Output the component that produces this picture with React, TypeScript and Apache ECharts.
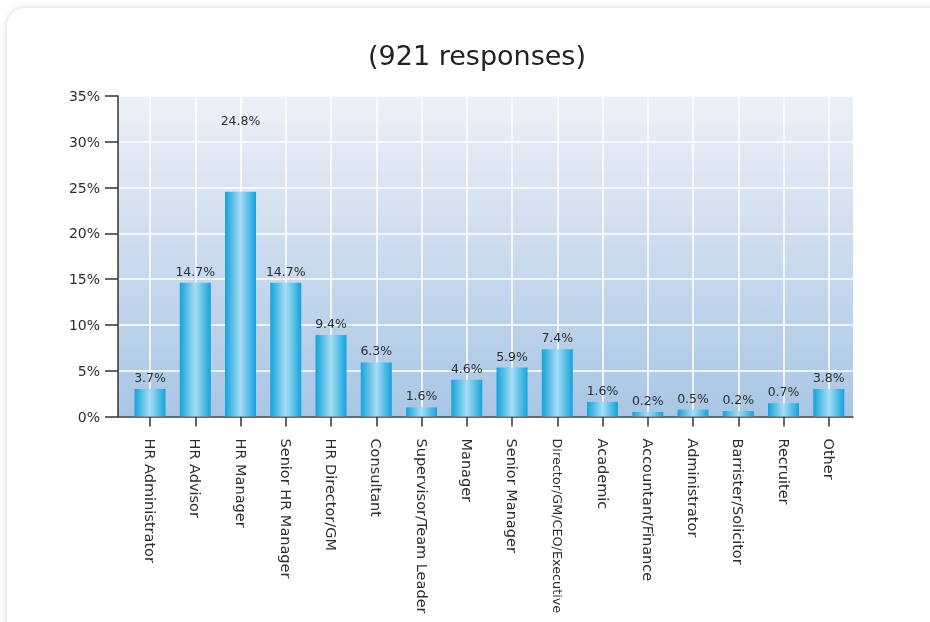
import React, { useEffect, useRef } from "react";
import * as echarts from "echarts";

const categories = [
  "HR Administrator",
  "HR Advisor",
  "HR Manager",
  "Senior HR Manager",
  "HR Director/GM",
  "Consultant",
  "Supervisor/Team Leader",
  "Manager",
  "Senior Manager",
  "Director/GM/CEO/Executive",
  "Academic",
  "Accountant/Finance",
  "Administrator",
  "Barrister/Solicitor",
  "Recruiter",
  "Other",
];

// bar heights as drawn (percent)
const barValues = [3.0, 14.6, 24.55, 14.6, 8.9, 5.9, 1.0, 4.0, 5.35, 7.35, 1.6, 0.5, 0.75, 0.6, 1.45, 3.0];

// label texts printed above the bars
const labelTexts = ["3.7%", "14.7%", "24.8%", "14.7%", "9.4%", "6.3%", "1.6%", "4.6%", "5.9%", "7.4%", "1.6%", "0.2%", "0.5%", "0.2%", "0.7%", "3.8%"];

const yMin = 0;
const yMax = 35;
const yStep = 5;

const titleText = "(921 responses)";

const FONT = "'DejaVu Sans', 'Open Sans', sans-serif";

export default function App() {
  const ref = useRef<HTMLDivElement>(null);

  useEffect(() => {
    if (!ref.current) return;
    const chart = echarts.init(ref.current, undefined, { renderer: "svg" });

    const barGradient = new echarts.graphic.LinearGradient(0, 0, 1, 0, [
      { offset: 0, color: "#14a2da" },
      { offset: 0.5, color: "#a6ddf4" },
      { offset: 1, color: "#14a3da" },
    ]);

    const bgGradient = new echarts.graphic.LinearGradient(0, 0, 0, 1, [
      { offset: 0, color: "#edf0f8" },
      { offset: 1, color: "#a8c6e4" },
    ]);

    const seriesData = barValues.map((v, i) =>
      i === 2
        ? { value: v, label: { offset: [0, -60] } }
        : { value: v }
    );

    const xData = categories.map((c) =>
      c.length > 22 ? { value: c, textStyle: { fontSize: 12.8 } } : c
    );

    chart.setOption({
      animation: false,
      title: {
        text: titleText,
        left: 472,
        top: 37,
        textAlign: "center",
        textStyle: {
          fontSize: 27,
          fontWeight: "normal",
          color: "#222",
          fontFamily: FONT,
        },
      },
      grid: [
        {
          left: 118,
          right: 77,
          top: 96,
          bottom: 205.5,
          show: true,
          backgroundColor: bgGradient,
          borderWidth: 0,
        },
        {
          left: 127.4,
          right: 78.6,
          top: 96,
          bottom: 205.5,
        },
      ],
      xAxis: [
        {
          gridIndex: 0,
          type: "category",
          data: categories,
          axisLine: { show: true, lineStyle: { color: "#3a3a3a", width: 1.5 } },
          axisTick: { show: false },
          axisLabel: { show: false },
          splitLine: { show: false },
        },
        {
          gridIndex: 1,
          type: "category",
          data: xData,
          axisLine: { show: false },
          axisTick: {
            show: true,
            alignWithLabel: true,
            length: 10,
            lineStyle: { color: "#333", width: 1.5 },
          },
          axisLabel: {
            rotate: -90,
            margin: 22,
            fontSize: 14.5,
            color: "#2e2e2e",
            fontFamily: FONT,
            interval: 0,
          },
          splitLine: {
            show: true,
            alignWithLabel: true,
            lineStyle: { color: "#ffffff", width: 1.5 },
          },
        },
      ],
      yAxis: [
        {
          gridIndex: 0,
          type: "value",
          min: yMin,
          max: yMax,
          interval: yStep,
          axisLine: { show: true, lineStyle: { color: "#333", width: 1.5 } },
          axisTick: { show: true, length: 13, lineStyle: { color: "#333", width: 1.5 } },
          axisLabel: {
            formatter: "{value}%",
            fontSize: 14,
            color: "#2e2e2e",
            margin: 18,
            fontFamily: FONT,
          },
          splitLine: { show: true, lineStyle: { color: "#ffffff", width: 1.5 } },
        },
        {
          gridIndex: 1,
          type: "value",
          min: yMin,
          max: yMax,
          interval: yStep,
          show: false,
        },
      ],
      series: [
        {
          type: "bar",
          xAxisIndex: 1,
          yAxisIndex: 1,
          barWidth: 31,
          data: seriesData,
          itemStyle: { color: barGradient },
          label: {
            show: true,
            position: "top",
            distance: 5,
            fontSize: 12.5,
            color: "#2e2e2e",
            fontFamily: FONT,
            formatter: (p: any) => labelTexts[p.dataIndex],
          },
        },
      ],
    });

    return () => chart.dispose();
  }, []);

  return (
    <>
      <div
        style={{
          position: "fixed",
          left: 7,
          top: 8,
          width: 1000,
          height: 700,
          borderRadius: 18,
          background: "#fff",
          boxShadow: "0 0 5px 1px rgba(0,0,0,0.13)",
        }}
      />
      <div
        ref={ref}
        style={{ position: "fixed", left: 0, top: 0, width: 930, height: 622 }}
      />
    </>
  );
}
